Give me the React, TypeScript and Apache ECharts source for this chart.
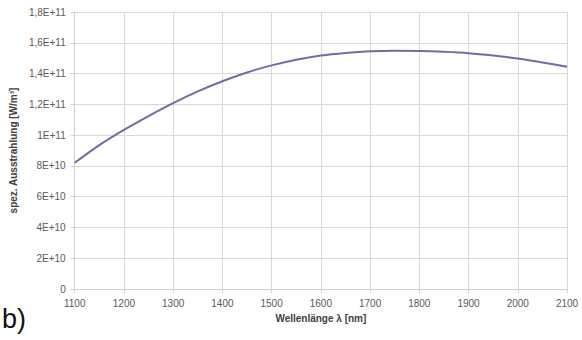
import React, { useEffect, useRef } from "react";
import * as echarts from "echarts";

const wavelengths = [1100, 1150, 1200, 1250, 1300, 1350, 1400, 1450, 1500, 1550, 1600, 1650, 1700, 1750, 1800, 1850, 1900, 1950, 2000, 2050, 2100];
const radiance = [
  8.2e10, 9.35e10, 1.034e11, 1.124e11, 1.208e11, 1.284e11, 1.35e11, 1.407e11, 1.453e11, 1.49e11, 1.517e11,
  1.534e11, 1.545e11, 1.549e11, 1.547e11, 1.541e11, 1.532e11, 1.517e11, 1.498e11, 1.472e11, 1.444e11,
];
const xTickLabels = ["1100", "1200", "1300", "1400", "1500", "1600", "1700", "1800", "1900", "2000", "2100"];
const yTickLabels = ["0", "2E+10", "4E+10", "6E+10", "8E+10", "1E+11", "1,2E+11", "1,4E+11", "1,6E+11", "1,8E+11"];

const FONT = "'Liberation Sans', 'DejaVu Sans', sans-serif";

export default function App() {
  const ref = useRef<HTMLDivElement>(null);
  useEffect(() => {
    if (!ref.current) return;
    const chart = echarts.init(ref.current, null, { renderer: "svg" });
    chart.setOption({
      animation: false,
      backgroundColor: "#ffffff",
      grid: { left: 73, right: 15, top: 12, bottom: 51, containLabel: false },
      xAxis: {
        type: "value",
        min: 1100,
        max: 2100,
        interval: 100,
        name: "Wellenlänge λ [nm]",
        nameLocation: "middle",
        nameGap: 24,
        nameTextStyle: { fontFamily: FONT, fontSize: 10, fontWeight: "bold", color: "#404040" },
        axisLine: { show: true, lineStyle: { color: "#d0d0d0", width: 1 } },
        axisTick: { show: true, length: 4, lineStyle: { color: "#d0d0d0" } },
        axisLabel: {
          fontFamily: FONT,
          fontSize: 10,
          color: "#595959",
          margin: 9,
          formatter: (v: number) => xTickLabels[Math.round((v - 1100) / 100)] ?? "",
        },
        splitLine: { show: true, lineStyle: { color: "#d9d9d9", width: 1 } },
      },
      yAxis: {
        type: "value",
        min: 0,
        max: 1.8e11,
        interval: 2e10,
        name: "spez. Ausstrahlung [W/m³]",
        nameLocation: "middle",
        nameRotate: 90,
        nameGap: 51,
        nameTextStyle: { fontFamily: FONT, fontSize: 10, fontWeight: "bold", color: "#404040" },
        axisLine: { show: true, lineStyle: { color: "#d0d0d0", width: 1 } },
        axisTick: { show: true, length: 4, lineStyle: { color: "#d0d0d0" } },
        axisLabel: {
          fontFamily: FONT,
          fontSize: 10,
          color: "#595959",
          margin: 9,
          formatter: (v: number) => yTickLabels[Math.round(v / 2e10)] ?? "",
        },
        splitLine: { show: true, lineStyle: { color: "#d9d9d9", width: 1 } },
      },
      series: [
        {
          type: "line",
          data: wavelengths.map((w, i) => [w, radiance[i]]),
          smooth: 0.3,
          showSymbol: false,
          lineStyle: { color: "#7b66a8", width: 2 },
        },
      ],
      graphic: [
        {
          type: "text",
          left: 2,
          top: 305,
          style: { text: "b)", fontFamily: FONT, fontSize: 27, fill: "#111111" },
        },
      ],
    });
    return () => chart.dispose();
  }, []);
  return (
    <div
      ref={ref}
      style={{ position: "absolute", left: 0, top: 0, width: 582, height: 340 }}
    />
  );
}
